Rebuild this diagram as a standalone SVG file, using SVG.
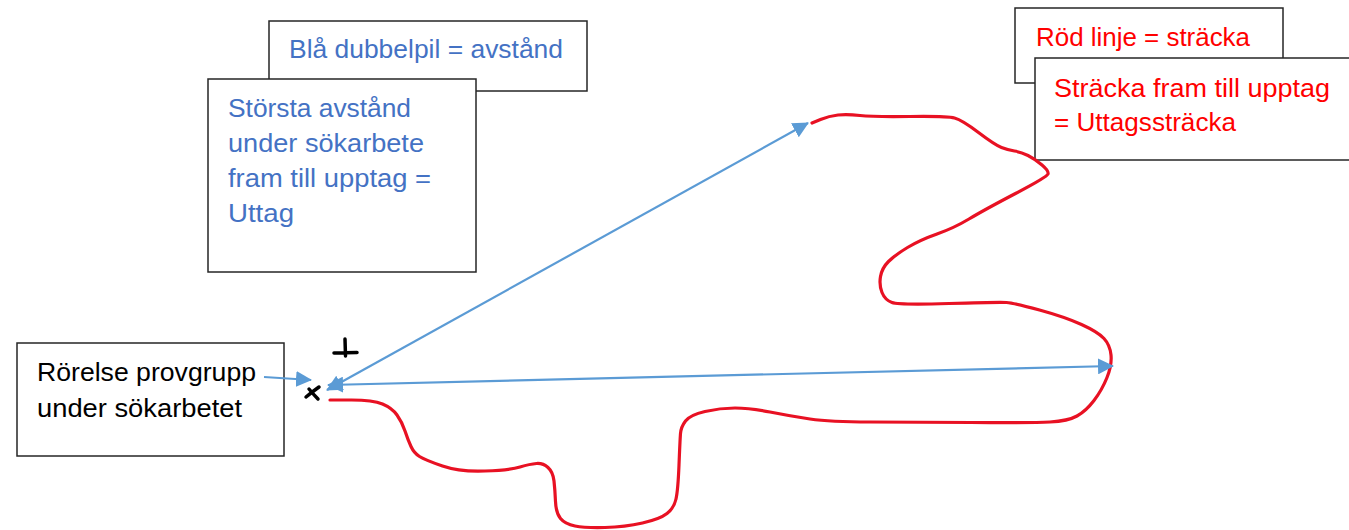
<svg xmlns="http://www.w3.org/2000/svg" width="1349" height="530" viewBox="0 0 1349 530">
<style>
.box{fill:#fff;stroke:#262626;stroke-width:1.5}
.t{font-family:"Liberation Sans",Arial,sans-serif;font-size:25px}
.blue{fill:#4472C4}.red{fill:#FF0000}.blk{fill:#000}
.arr{stroke:#5B9BD5;stroke-width:2.2;fill:none}
.route{stroke:#E81123;stroke-width:3.2;fill:none;stroke-linecap:round;stroke-linejoin:round}
.mark{stroke:#000;stroke-width:3.5;fill:none;stroke-linecap:round}
</style>
<defs>
<marker id="ah" viewBox="0 0 16 16" refX="15" refY="8" markerWidth="16" markerHeight="16" markerUnits="userSpaceOnUse" orient="auto-start-reverse">
<path d="M0,0 L16,8 L0,16 z" fill="#5B9BD5"/>
</marker>
</defs>
<g id="legend-blue">
<rect class="box" x="269" y="21" width="318" height="70"/>
<text class="t blue" x="289" y="58" textLength="274" lengthAdjust="spacingAndGlyphs">Blå dubbelpil = avstånd</text>
</g>
<g id="uttag">
<rect class="box" x="208" y="79" width="268" height="193"/>
<text class="t blue" x="228" y="117" textLength="183" lengthAdjust="spacingAndGlyphs">Största avstånd</text>
<text class="t blue" x="228" y="152" textLength="196" lengthAdjust="spacingAndGlyphs">under sökarbete</text>
<text class="t blue" x="228" y="187" textLength="203" lengthAdjust="spacingAndGlyphs">fram till upptag =</text>
<text class="t blue" x="228" y="222" textLength="66" lengthAdjust="spacingAndGlyphs">Uttag</text>
</g>
<g id="legend-red">
<rect class="box" x="1015" y="8" width="268" height="75"/>
<text class="t red" x="1036" y="46" textLength="214" lengthAdjust="spacingAndGlyphs">Röd linje = sträcka</text>
</g>
<g id="uttagsstracka">
<rect class="box" x="1035" y="58" width="320" height="102"/>
<text class="t red" x="1054" y="97" textLength="276" lengthAdjust="spacingAndGlyphs">Sträcka fram till upptag</text>
<text class="t red" x="1054" y="131" textLength="182" lengthAdjust="spacingAndGlyphs">= Uttagssträcka</text>
</g>
<g id="rorelse">
<rect class="box" x="17" y="343" width="267" height="113"/>
<text class="t blk" x="37" y="381" textLength="219" lengthAdjust="spacingAndGlyphs">Rörelse provgrupp</text>
<text class="t blk" x="37" y="417" textLength="205" lengthAdjust="spacingAndGlyphs">under sökarbetet</text>
</g>
<g id="marks">
<path class="mark" d="M334,353 L357,352.5 M345,339 L345.5,356"/>
<path class="mark" d="M319,387 Q312,392 306,397 M309,389 Q314,395 318,399"/>
</g>
<g id="connectors">
<path class="route" d="M330,400 L351.5,400 Q373,400 382.5,404 Q392,408 397,415 Q402,422 405,431 Q408,440 411,446.5 Q414,453 419.5,456.5 Q425,460 442.5,466 Q460,472 485,471 Q510,470 520,467 Q530,464 536.5,463.5 Q543,463 548,467.5 Q553,472 554,481 Q555,490 555.5,501.5 Q556,513 560.5,518.5 Q565,524 575,526 Q585,528 605,527.5 Q625,527 642.5,523 Q660,519 667,513.5 Q674,508 676,499 Q678,490 679,465 Q680,440 680.5,433.5 Q681,427 685.5,421 Q690,415 705,411.5 Q720,408 735,408 Q750,408 770,412 Q790,416 810,419 Q830,422 870,422 Q910,422 971,422.5 Q1032,423 1050,422 Q1068,421 1077,416 Q1086,411 1094,400.5 Q1102,390 1107,377.5 Q1112,365 1111,355 Q1110,345 1104,338.5 Q1098,332 1081.5,324.5 Q1065,317 1039.5,310 Q1014,303 1006.5,302.5 Q999,302 949,303.5 Q899,305 892,302.5 Q885,300 882,292.5 Q879,285 880.5,276.5 Q882,268 888.5,261.5 Q895,255 907.5,247.5 Q920,240 937,234 Q954,228 969,219 Q984,210 1015.5,193.5 Q1047,177 1048,174 Q1049,171 1042,165 Q1035,159 1028,155.5 Q1021,152 1014.5,151 Q1008,150 1001.5,147.5 Q995,145 978.5,132.5 Q962,120 954.5,118 Q947,116 910,116.5 Q873,117 860,115.5 Q847,114 838,115 Q829,116 820.5,119.5 L812,123"/>
<line class="arr" x1="264" y1="377" x2="311" y2="380" marker-end="url(#ah)"/>
<line class="arr" x1="327" y1="390" x2="808" y2="123" marker-start="url(#ah)" marker-end="url(#ah)"/>
<line class="arr" x1="328" y1="385" x2="1113" y2="366" marker-start="url(#ah)" marker-end="url(#ah)"/>
</g>
</svg>
